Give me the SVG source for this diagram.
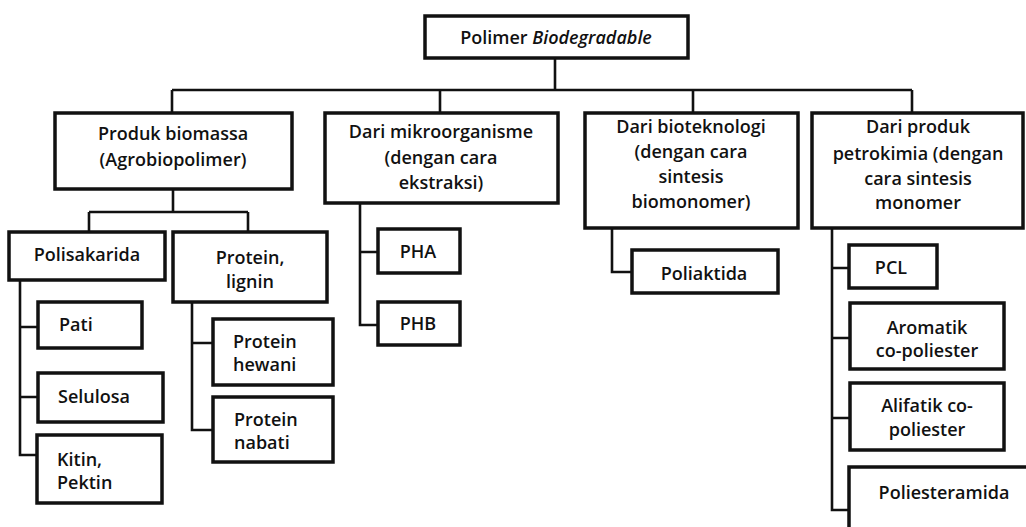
<svg xmlns="http://www.w3.org/2000/svg" width="1026" height="527" viewBox="0 0 1026 527">
<style>
.box{fill:#fff;stroke:#111;stroke-width:3.5}
.ln{fill:none;stroke:#111;stroke-width:2.6}
text{font-family:"Open Sans","DejaVu Sans",sans-serif;font-size:18px;font-weight:600;fill:#111}
.c{text-anchor:middle}
</style>
<rect width="1026" height="527" fill="#fff"/>
<g id="connectors">
<path class="ln" d="M555 58V90M172 90H912M172 90V113M440 90V113M693 90V113M912 90V113"/>
<path class="ln" d="M173 189V212M89 212H248M89 212V232M248 212V232"/>
<path class="ln" d="M20 280V455H37M20 327H38M20 397H38"/>
<path class="ln" d="M192 302V430H213M192 343H213"/>
<path class="ln" d="M360 203V325H378M360 252H378"/>
<path class="ln" d="M612 228V272H632"/>
<path class="ln" d="M832 228V510H849M832 268H849M832 338H850M832 418H850"/>
</g>
<g id="root"><rect class="box" x="425" y="16" width="263" height="42"/><text class="c" x="556" y="44">Polimer <tspan font-style="italic">Biodegradable</tspan></text></g>
<g id="biomassa"><rect class="box" x="55" y="113" width="237" height="76"/><text class="c" x="173" y="140">Produk biomassa</text><text class="c" x="173" y="166">(Agrobiopolimer)</text></g>
<g id="mikro"><rect class="box" x="325" y="113" width="233" height="90"/><text class="c" x="441" y="138">Dari mikroorganisme</text><text class="c" x="441" y="164">(dengan cara</text><text class="c" x="441" y="189">ekstraksi)</text></g>
<g id="biotek"><rect class="box" x="585" y="113" width="213" height="115"/><text class="c" x="691" y="133">Dari bioteknologi</text><text class="c" x="691" y="158">(dengan cara</text><text class="c" x="691" y="183">sintesis</text><text class="c" x="691" y="208">biomonomer)</text></g>
<g id="petro"><rect class="box" x="812" y="113" width="211" height="115"/><text class="c" x="918" y="133">Dari produk</text><text class="c" x="918" y="160">petrokimia (dengan</text><text class="c" x="918" y="185">cara sintesis</text><text class="c" x="918" y="209">monomer</text></g>
<g id="polisakarida"><rect class="box" x="9" y="232" width="156" height="48"/><text class="c" x="87" y="261">Polisakarida</text></g>
<g id="protein-lignin"><rect class="box" x="173" y="232" width="154" height="70"/><text class="c" x="250" y="264">Protein,</text><text class="c" x="250" y="288">lignin</text></g>
<g id="pati"><rect class="box" x="38" y="302" width="104" height="46"/><text x="59" y="331">Pati</text></g>
<g id="selulosa"><rect class="box" x="38" y="373" width="125" height="49"/><text x="58" y="403">Selulosa</text></g>
<g id="kitin"><rect class="box" x="37" y="435" width="125" height="68"/><text x="57" y="466">Kitin,</text><text x="57" y="489">Pektin</text></g>
<g id="hewani"><rect class="box" x="213" y="319" width="120" height="66"/><text x="233" y="348">Protein</text><text x="233" y="371">hewani</text></g>
<g id="nabati"><rect class="box" x="213" y="397" width="120" height="65"/><text x="234" y="426">Protein</text><text x="234" y="449">nabati</text></g>
<g id="pha"><rect class="box" x="378" y="229" width="82" height="44"/><text class="c" x="418" y="258">PHA</text></g>
<g id="phb"><rect class="box" x="378" y="302" width="82" height="43"/><text class="c" x="418" y="330">PHB</text></g>
<g id="poliaktida"><rect class="box" x="632" y="250" width="146" height="43"/><text class="c" x="704" y="280">Poliaktida</text></g>
<g id="pcl"><rect class="box" x="849" y="245" width="88" height="43"/><text class="c" x="891" y="274">PCL</text></g>
<g id="aromatik"><rect class="box" x="850" y="303" width="154" height="66"/><text class="c" x="927" y="334">Aromatik</text><text class="c" x="927" y="357">co-poliester</text></g>
<g id="alifatik"><rect class="box" x="850" y="383" width="154" height="67"/><text class="c" x="927" y="412">Alifatik co-</text><text class="c" x="927" y="436">poliester</text></g>
<g id="poliesteramida"><rect class="box" x="849" y="467" width="200" height="100"/><text class="c" x="944" y="499">Poliesteramida</text></g>
</svg>
